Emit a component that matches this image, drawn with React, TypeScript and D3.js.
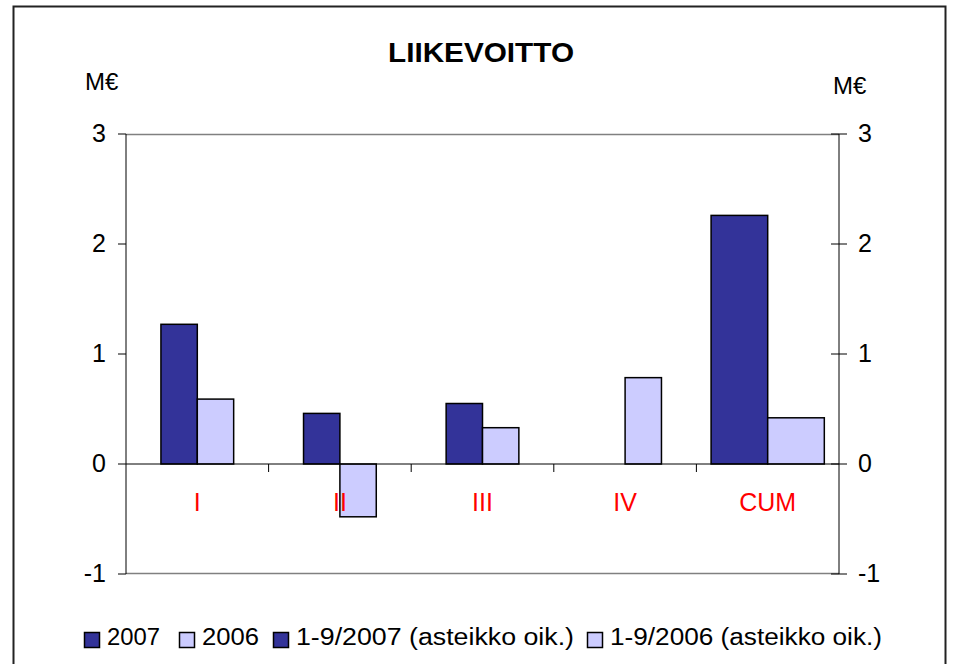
import React, {useEffect, useRef} from 'react';
import * as d3 from 'd3';

// chart data
const categories = ['I', 'II', 'III', 'IV', 'CUM'];
const sales2007: (number | null)[] = [1.27, 0.46, 0.55, null, null];
const sales2006: (number | null)[] = [0.59, -0.48, 0.33, 0.785, null];
const cum2007: (number | null)[] = [null, null, null, null, 2.26];
const cum2006: (number | null)[] = [null, null, null, null, 0.42];
const yTicks = [-1, 0, 1, 2, 3];
const legendLabels = ['2007', '2006', '1-9/2007 (asteikko oik.)', '1-9/2006 (asteikko oik.)'];

const width = 956;
const height = 664;
const dark = '#333399';
const light = '#CCCCFF';
const font = '"Liberation Sans", Arial, sans-serif';

const App = () => {
    const svgRef = useRef<SVGSVGElement>(null);

    useEffect(() => {
        const svg = d3.select(svgRef.current);
        svg.selectAll('*').remove();

        const left = 126, right = 839, top = 134, bottom = 574;

        // outer frame
        svg.append('rect')
            .attr('x', 13.5).attr('y', 6.5)
            .attr('width', 932).attr('height', 700)
            .attr('fill', 'white')
            .attr('stroke', '#222').attr('stroke-width', 2);

        const x0 = d3.scaleBand<string>().domain(categories).range([left, right]).padding(0);
        const y = d3.scaleLinear().domain([-1, 3]).range([bottom, top]);
        // secondary axis ("asteikko oik.") uses the same range
        const y2 = d3.scaleLinear().domain([-1, 3]).range([bottom, top]);

        const bw = x0.bandwidth();
        const wPrim = bw * 0.255;
        const wSec = bw * 0.397;

        // plot area top / bottom border (gray)
        svg.append('line').attr('x1', left).attr('x2', right).attr('y1', top + 0.5).attr('y2', top + 0.5)
            .attr('stroke', '#808080').attr('stroke-width', 1.5);
        svg.append('line').attr('x1', left).attr('x2', right).attr('y1', bottom - 0.5).attr('y2', bottom - 0.5)
            .attr('stroke', '#808080').attr('stroke-width', 1.5);

        const drawSeries = (vals: (number | null)[], offset: number, w: number, color: string, scale: d3.ScaleLinear<number, number>) => {
            svg.append('g').selectAll('rect')
                .data(vals.map((v, i) => ({v, c: categories[i]})).filter(d => d.v !== null))
                .enter().append('rect')
                .attr('x', d => (x0(d.c) as number) + bw / 2 + offset * w)
                .attr('width', w)
                .attr('y', d => scale(Math.max(0, d.v as number)))
                .attr('height', d => Math.abs(scale(d.v as number) - scale(0)))
                .attr('fill', color)
                .attr('stroke', 'black')
                .attr('stroke-width', 1.5);
        };

        drawSeries(sales2007, -1, wPrim, dark, y);
        drawSeries(sales2006, 0, wPrim, light, y);
        drawSeries(cum2007, -1, wSec, dark, y2);
        drawSeries(cum2006, 0, wSec, light, y2);

        // zero line + category ticks
        svg.append('line').attr('x1', left).attr('x2', right).attr('y1', y(0)).attr('y2', y(0))
            .attr('stroke', 'black').attr('stroke-width', 1);
        const catTicks = categories.slice(1).map(c => x0(c) as number);
        svg.append('g').selectAll('line').data(catTicks).enter().append('line')
            .attr('x1', d => d).attr('x2', d => d)
            .attr('y1', y(0)).attr('y2', y(0) + 8)
            .attr('stroke', 'black');

        // left axis
        svg.append('line').attr('x1', left).attr('x2', left).attr('y1', top).attr('y2', bottom).attr('stroke', 'black');
        svg.append('g').selectAll('line').data(yTicks).enter().append('line')
            .attr('x1', left - 8).attr('x2', left).attr('y1', d => y(d)).attr('y2', d => y(d))
            .attr('stroke', 'black');
        svg.append('g').selectAll('text').data(yTicks).enter().append('text')
            .attr('x', 106).attr('y', d => y(d) + 8)
            .attr('text-anchor', 'end')
            .style('font-family', font).style('font-size', '25px')
            .text(d => d);

        // right axis
        svg.append('line').attr('x1', right).attr('x2', right).attr('y1', top).attr('y2', bottom).attr('stroke', 'black');
        svg.append('g').selectAll('line').data(yTicks).enter().append('line')
            .attr('x1', right - 8).attr('x2', right + 8).attr('y1', d => y2(d)).attr('y2', d => y2(d))
            .attr('stroke', 'black');
        svg.append('g').selectAll('text').data(yTicks).enter().append('text')
            .attr('x', 858).attr('y', d => y2(d) + 8)
            .attr('text-anchor', 'start')
            .style('font-family', font).style('font-size', '25px')
            .text(d => d);

        // category labels
        svg.append('g').selectAll('text').data(categories).enter().append('text')
            .attr('x', d => (x0(d) as number) + bw / 2)
            .attr('y', 511)
            .attr('text-anchor', 'middle')
            .attr('fill', '#FF0000')
            .style('font-family', font).style('font-size', '25px')
            .text(d => d);

        // title and units
        svg.append('text').attr('x', 388).attr('y', 62)
            .attr('textLength', 186).attr('lengthAdjust', 'spacingAndGlyphs')
            .style('font-family', font).style('font-size', '27px').style('font-weight', 'bold')
            .text('LIIKEVOITTO');
        svg.append('text').attr('x', 85).attr('y', 90)
            .style('font-family', font).style('font-size', '24px').text('M€');
        svg.append('text').attr('x', 833).attr('y', 94)
            .style('font-family', font).style('font-size', '24px').text('M€');

        // legend
        const legendX = [84, 179, 273, 587];
        const legendW = [53, 57, 278, 272];
        const legendColors = [dark, light, dark, light];
        const legend = svg.append('g').selectAll('g').data(legendLabels).enter().append('g');
        legend.append('rect')
            .attr('x', (d, i) => legendX[i] + 0.5).attr('y', 632.5)
            .attr('width', 15).attr('height', 15)
            .attr('fill', (d, i) => legendColors[i])
            .attr('stroke', 'black').attr('stroke-width', 1.5);
        legend.append('text')
            .attr('x', (d, i) => legendX[i] + 23).attr('y', 644.5)
            .attr('textLength', (d, i) => legendW[i]).attr('lengthAdjust', 'spacingAndGlyphs')
            .style('font-family', font).style('font-size', '23px')
            .text(d => d);
    }, []);

    return <svg ref={svgRef} width={width} height={height}
                style={{position: 'absolute', left: 0, top: 0, background: 'white'}}/>;
};

export default App;
